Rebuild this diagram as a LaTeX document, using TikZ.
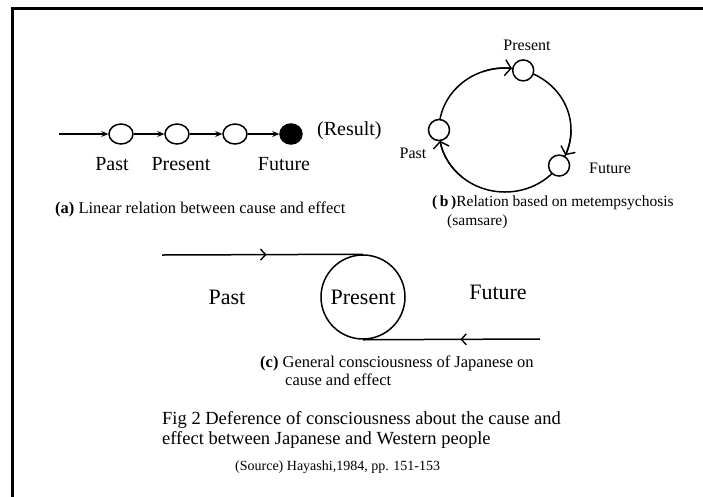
\documentclass[tikz,border=0pt]{standalone}
\usepackage{fontspec}
\setmainfont{Liberation Serif}
\usetikzlibrary{arrows.meta,shapes.geometric,decorations.markings}

\begin{document}
\begin{tikzpicture}[x=1pt,y=-1pt,
    dot/.style={ellipse, draw, line width=1.5pt, fill=white, minimum width=24pt,
                minimum height=20pt, inner sep=0pt},
    ring/.style={circle, draw, line width=1.5pt, fill=white, minimum size=21pt, inner sep=0pt},
    arr/.style={-{Stealth[length=7pt,width=6pt]}, line width=1.4pt},
    barb/.style={-{Straight Barb[length=6pt,width=16pt]}, line width=1.4pt},
    midarrow/.style={postaction={decorate}, decoration={markings,
                mark=at position #1 with {\arrow[line width=1.4pt]{Straight Barb[length=5pt,width=11pt]}}}},
    lblhuge/.style={inner sep=0pt, font=\fontsize{22}{26}\selectfont},
    lblbig/.style={inner sep=0pt, font=\fontsize{20}{24}\selectfont},
    lblsmall/.style={inner sep=0pt, font=\fontsize{16}{19}\selectfont},
    captxt/.style={inner sep=0pt, align=left, anchor=west},
  ]
  \useasboundingbox (0,0) rectangle (703,496);
  \draw[line width=3pt] (12,500) -- (12,8) -- (706,8);

  % (a) linear
  \coordinate (astart) at (59,134);
  \node[dot] (a1) at (121,134) {};
  \node[dot] (a2) at (177,134) {};
  \node[dot] (a3) at (235,134) {};
  \node[dot, fill=black, minimum width=22pt] (a4) at (291,134) {};
  \draw[arr] (astart) -- (a1);
  \draw[arr] (a1) -- (a2);
  \draw[arr] (a2) -- (a3);
  \draw[arr] (a3) -- (a4);
  \node[lblbig, anchor=west] (ares) at (317,131) {(Result)};
  \node[lblbig] (apast) at (112,164) {Past};
  \node[lblbig] (apres) at (181,164) {Present};
  \node[lblbig] (afut) at (284,164) {Future};
  \node[captxt, font=\fontsize{16.5}{20}\selectfont] (acap) at (55,209)
    {\textbf{(a)} Linear relation between cause and effect};

  % (b) samsara circle
  \coordinate (bc) at (505,130);
  \draw[line width=1.5pt] (bc) ellipse[x radius=66, y radius=62];
  \draw[barb] ([shift={(-110:66 and 62)}]bc) arc[start angle=-110, end angle=-84, x radius=66, y radius=62];
  \draw[barb] ([shift={(0:66 and 62)}]bc) arc[start angle=0, end angle=24, x radius=66, y radius=62];
  \draw[barb] ([shift={(-230:66 and 62)}]bc) arc[start angle=-230, end angle=-190, x radius=66, y radius=62];
  \node[ring] (bpres) at ([shift={(-74:66 and 62)}]bc) {};
  \node[ring] (bpast) at ([shift={(180:66 and 62)}]bc) {};
  \node[ring] (bfut) at ([shift={(35:66 and 62)}]bc) {};
  \node[lblsmall] (bpreslbl) at (527,45) {Present};
  \node[lblsmall] (bpastlbl) at (413,153) {Past};
  \node[lblsmall] (bfutlbl) at (610,168) {Future};
  \node[captxt, font=\fontsize{15.5}{19}\selectfont] (bcap) at (432,212)
    {\textbf{(\,b\,)}Relation based on metempsychosis\\\hspace{15pt}(samsare)};

  % (c) japanese view
  \coordinate (cin) at (162,255);
  \node[circle, draw, line width=1.5pt, minimum size=84pt, inner sep=0pt, lblhuge] (cpres) at (363,297) {Present};
  \coordinate (cout) at (540,339);
  \draw[line width=1.5pt, midarrow=0.52] (cin) -- (cpres.north);
  \draw[line width=1.5pt, midarrow=0.45] (cout) -- (cpres.south);
  \node[lblhuge] (cpast) at (227,297) {Past};
  \node[lblhuge] (cfut) at (498,292) {Future};
  \node[captxt, font=\fontsize{16.5}{18}\selectfont] (ccap) at (260,371)
    {\textbf{(c)} General consciousness of Japanese on\\\hspace{25pt}cause and effect};

  % figure caption and source
  \node[captxt, font=\fontsize{18.5}{20}\selectfont] (figcap) at (162,430)
    {Fig 2 Deference of consciousness about the cause and\\effect between Japanese and Western people};
  \node[captxt, font=\fontsize{14}{16}\selectfont] (src) at (235,467) {(Source) Hayashi,1984, pp. 151-153};
\end{tikzpicture}
\end{document}
